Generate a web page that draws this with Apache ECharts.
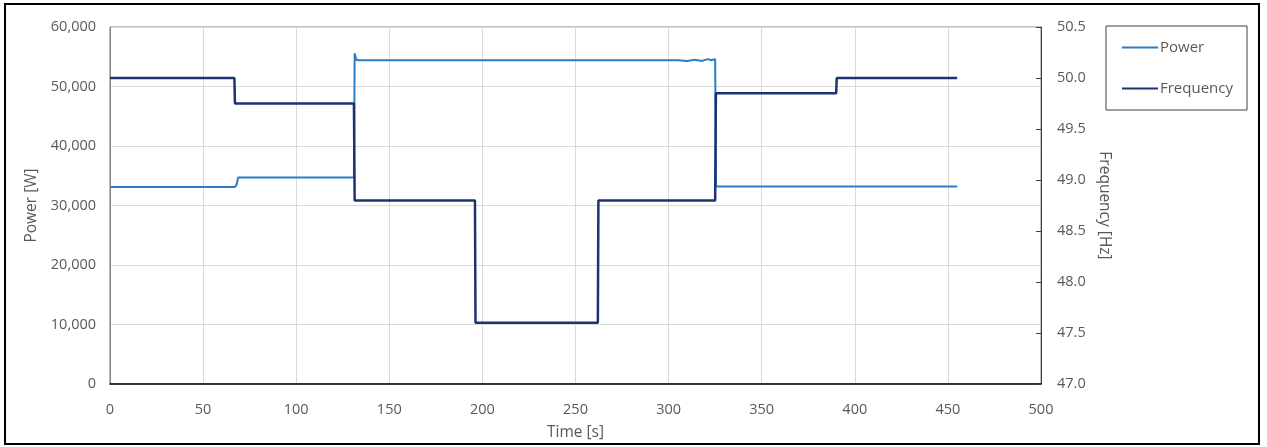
<!DOCTYPE html>
<html>
<head>
<meta charset="utf-8">
<script src="https://cdn.jsdelivr.net/npm/echarts@6/dist/echarts.min.js"></script>
<style>
  html, body { margin: 0; padding: 0; background: #fff; }
  #chart { width: 1267px; height: 447px; }
</style>
</head>
<body>
<div id="chart"></div>
<script>
// Datos: tiempo [s], potencia [W], frecuencia [Hz]
const powerTime = [0, 67, 68, 68.8, 131, 131.4, 132.3, 133.5, 305, 310, 314, 318, 321, 323, 325, 325.5, 455];
const powerValues = [33100, 33100, 33500, 34700, 34700, 55600, 54500, 54400, 54400, 54300, 54500, 54300, 54600, 54400, 54600, 33200, 33200];

const freqTime = [0, 66.8, 67.1, 131, 131.4, 196, 196.3, 262, 262.3, 325, 325.4, 390, 390.3, 455];
const freqValues = [50.0, 50.0, 49.75, 49.75, 48.8, 48.8, 47.6, 47.6, 48.8, 48.8, 49.85, 49.85, 50.0, 50.0];

const powerTicks = { min: 0, max: 60000, interval: 10000 };
const freqTicks = { min: 47.0, max: 50.5, interval: 0.5 };
const timeTicks = { min: 0, max: 500, interval: 50 };

const myChart = echarts.init(document.getElementById('chart'));

const textFont = 'Open Sans';
const grayText = '#595959';

let option = {
    animation: false,
    textStyle: { fontFamily: textFont },
    // marco exterior
    graphic: [{
        type: 'rect',
        shape: { x: 5, y: 4, width: 1254, height: 440 },
        style: { fill: 'none', stroke: '#000', lineWidth: 2 },
        silent: true
    }],
    legend: {
        orient: 'vertical',
        left: 1106,
        top: 26,
        padding: [14, 14, 14, 16],
        itemGap: 26,
        itemWidth: 36,
        itemHeight: 2,
        icon: 'rect',
        borderColor: '#404040',
        borderWidth: 1,
        textStyle: { fontSize: 15, color: grayText, fontFamily: textFont, padding: [0, 0, 0, -3] },
        data: ['Power', 'Frequency']
    },
    grid: {
        left: 110,
        right: 226,
        top: 27,
        bottom: 63,
        show: true,
        borderColor: '#808080',
        borderWidth: 1
    },
    xAxis: {
        type: 'value',
        min: timeTicks.min,
        max: timeTicks.max,
        interval: timeTicks.interval,
        name: 'Time [s]',
        nameLocation: 'middle',
        nameGap: 41,
        nameTextStyle: { fontSize: 15.5, color: grayText },
        axisLine: { show: true, lineStyle: { color: '#000', width: 1.5 } },
        axisTick: { show: false },
        axisLabel: { fontSize: 14.5, color: grayText, margin: 18 },
        splitLine: { show: true, lineStyle: { color: '#d9d9d9' } }
    },
    yAxis: [
        {
            type: 'value',
            position: 'left',
            min: powerTicks.min,
            max: powerTicks.max,
            interval: powerTicks.interval,
            name: 'Power [W]',
            nameLocation: 'middle',
            nameGap: 70,
            nameTextStyle: { fontSize: 15.5, color: grayText },
            axisLine: { show: true, lineStyle: { color: '#808080' } },
            axisTick: { show: false },
            axisLabel: {
                fontSize: 14.5,
                color: grayText,
                margin: 14,
                formatter: function (value) {
                    return value.toLocaleString('en-US');
                }
            },
            splitLine: { show: true, lineStyle: { color: '#d9d9d9' } }
        },
        {
            type: 'value',
            position: 'right',
            min: freqTicks.min,
            max: freqTicks.max,
            interval: freqTicks.interval,
            name: 'Frequency [Hz]',
            nameLocation: 'middle',
            nameRotate: -90,
            nameGap: 52,
            nameTextStyle: { fontSize: 15.5, color: grayText },
            axisLine: { show: true, lineStyle: { color: '#404040' } },
            axisTick: { show: true, inside: true, length: 5, lineStyle: { color: '#404040' } },
            axisLabel: {
                fontSize: 14.5,
                color: grayText,
                margin: 16,
                formatter: function (value) {
                    return value.toFixed(1);
                }
            },
            splitLine: { show: false }
        }
    ],
    series: [
        {
            name: 'Power',
            type: 'line',
            yAxisIndex: 0,
            showSymbol: false,
            symbol: 'none',
            lineStyle: { color: '#2a7dc6', width: 2 },
            itemStyle: { color: '#2a7dc6' },
            data: powerTime.map((t, i) => [t, powerValues[i]])
        },
        {
            name: 'Frequency',
            type: 'line',
            yAxisIndex: 1,
            showSymbol: false,
            symbol: 'none',
            lineStyle: { color: '#1b3370', width: 2.5 },
            itemStyle: { color: '#1b3370' },
            data: freqTime.map((t, i) => [t, freqValues[i]])
        }
    ]
};

myChart.setOption(option);
</script>
</body>
</html>
